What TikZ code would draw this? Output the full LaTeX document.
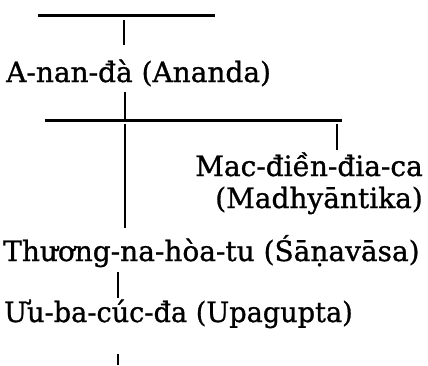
\documentclass[tikz,border=0pt]{standalone}
\usepackage{fontspec}
\setmainfont[FakeBold=1]{DejaVu Serif}
\begin{document}
\begin{tikzpicture}[x=1pt,y=-1pt,
  lbl/.style={inner sep=0pt,font=\fontsize{28}{30}\selectfont},
  hline/.style={line width=3pt},
  vline/.style={line width=2.6pt}]
\useasboundingbox (0,0) rectangle (428,365);
% texts
\node[lbl,anchor=base west] (ananda) at (6,82) {A-nan-đà (Ananda)};
\node[lbl,anchor=base east] (mac) at (423,176) {Mac-điền-đia-ca};
\node[lbl,anchor=base east] (madhy) at (423,208) {(Madhyāntika)};
\node[lbl,anchor=base west] (thuong) at (3,261) {Thương-na-hòa-tu (Śāṇavāsa)};
\node[lbl,anchor=base west,xscale=0.97] (uu) at (4,322) {Ưu-ba-cúc-đa (Upagupta)};
% bracket coordinates
\coordinate (t1l) at (38,15);
\coordinate (t1r) at (215,15);
\coordinate (t1m) at (124,15);
\coordinate (t1b) at (124,45);
\coordinate (a1t) at (125,92);
\coordinate (b1) at (125,120.5);
\coordinate (b1l) at (45,120.5);
\coordinate (b1r) at (342,120.5);
\coordinate (b1rv) at (337,120.5);
\coordinate (b1rb) at (337,150);
\coordinate (b1lb) at (125,228);
\coordinate (u1t) at (118,272);
\coordinate (u1b) at (118,298);
\coordinate (u2t) at (118,354);
\coordinate (u2b) at (118,365);
% lines
\draw[hline] (t1l) -- (t1r);
\draw[vline] (t1m) ++(0,5) -- (t1b);
\draw[vline] (a1t) -- (b1);
\draw[hline] (b1l) -- (b1r);
\draw[vline] (b1rv) ++(0,3) -- (b1rb);
\draw[vline] (b1) ++(0,3) -- (b1lb);
\draw[vline] (u1t) -- (u1b);
\draw[vline] (u2t) -- (u2b);
\end{tikzpicture}
\end{document}
